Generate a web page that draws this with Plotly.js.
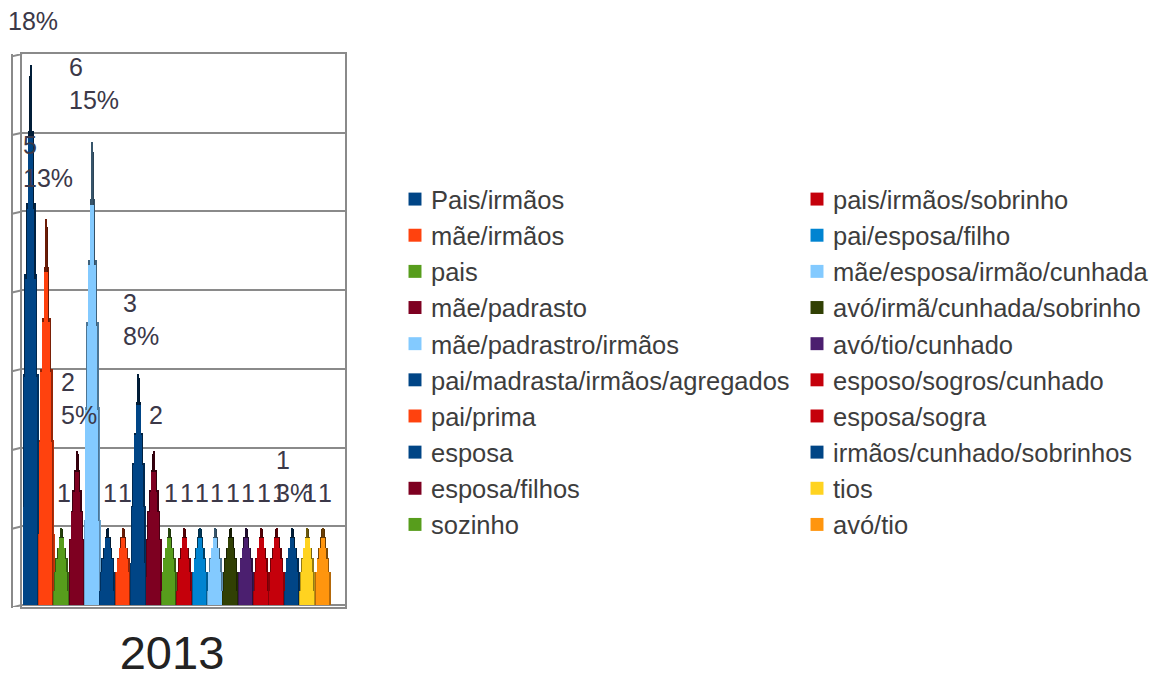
<!DOCTYPE html>
<html>
<head>
<meta charset="utf-8">
<script src="https://cdn.plot.ly/plotly-3.0.1.min.js"></script>
<style>html,body{margin:0;padding:0;background:#fff}</style>
</head>
<body>
<div id="chart" style="width:1159px;height:675px"></div>
<script>
// Household composition, 2013 (number of people per arrangement)
const categories = [
  "Pais/irmãos", "mãe/irmãos", "pais", "mãe/padrasto", "mãe/padrastro/irmãos",
  "pai/madrasta/irmãos/agregados", "pai/prima", "esposa", "esposa/filhos", "sozinho",
  "pais/irmãos/sobrinho", "pai/esposa/filho", "mãe/esposa/irmão/cunhada", "avó/irmã/cunhada/sobrinho", "avó/tio/cunhado",
  "esposo/sogros/cunhado", "esposa/sogra", "irmãos/cunhado/sobrinhos", "tios", "avó/tio"
];
const values = [7, 5, 1, 2, 6, 1, 1, 3, 2, 1, 1, 1, 1, 1, 1, 1, 1, 1, 1, 1];
const countLabels = ["", "5", "1", "2", "6", "1", "1", "3", "2", "1", "1", "1", "1", "1", "1", "1", "1", "1", "1", "1"];
const shareLabels = ["18%", "13%", "", "5%", "15%", "", "", "8%", "", "", "", "", "", "", "", "", "", "3%", "", ""];
const colors = [
  "#004586", "#ff420e", "#579d1c", "#7e0021", "#83caff",
  "#004586", "#ff420e", "#004586", "#7e0021", "#579d1c",
  "#c5000b", "#0084d1", "#83caff", "#314004", "#4b1f6f",
  "#c5000b", "#c5000b", "#004586", "#ffd320", "#ff950e"
];
const gridValues = [0, 1, 2, 3, 4, 5, 6, 7];

// Each cone is a stack of overlaid bars that narrow towards the tip.
const coneTiers = [
  {height: 0.18, width: 1.08, edge: 0.80},
  {height: 0.42, width: 1.00, edge: 0.70},
  {height: 0.60, width: 0.84, edge: 0.58},
  {height: 0.73, width: 0.60, edge: 0.48},
  {height: 0.86, width: 0.36, edge: 0.40},
  {height: 0.96, width: 0.20, edge: 0.34},
  {height: 0.98, width: 0.09, edge: 0.42}
];

function shade(hex, k) {
  const n = parseInt(hex.slice(1), 16);
  const c = [n >> 16, (n >> 8) & 255, n & 255].map(v => Math.round(v * k));
  return `rgb(${c[0]},${c[1]},${c[2]})`;
}

const traces = [];
categories.forEach((name, i) => {
  coneTiers.forEach(tier => {
    // darker shell that shows as the stepped edge of the cone
    traces.push({
      type: "bar", x: [name], y: [values[i] * tier.height], width: [tier.width],
      marker: {color: shade(colors[i], tier.edge), line: {width: 0}},
      showlegend: false, hoverinfo: "skip"
    });
  });
  coneTiers.slice(0, 5).forEach((tier, t) => {
    // lighter core, set slightly left of the cone's centre line
    const w = tier.width * 0.82;
    traces.push({
      type: "bar", x: [name], y: [values[i] * tier.height * 0.985], width: [w],
      offset: [-tier.width / 2 + tier.width * 0.05],
      name: name,
      marker: {color: colors[i], line: {width: 0}},
      showlegend: t === 0,
      legend: i < 10 ? "legend" : "legend2",
      hovertemplate: name + ": " + values[i] + "<extra></extra>"
    });
  });
});

const labelFont = {family: "Liberation Sans, Arial, sans-serif", size: 25, color: "#3b3848"};
const annotations = categories.map((name, i) => ({
  x: name, y: values[i], xref: "x", yref: "y",
  text: [countLabels[i], shareLabels[i]].filter(Boolean).join("<br>"),
  showarrow: false, align: "left", xanchor: "center", yanchor: "bottom",
  xshift: 2, yshift: 17, font: labelFont
}));

// Side wall of the pseudo-3D frame, left of the plotting area
const wall = {color: "#8a8a8a", width: 2};
const wallX = -10 / 323;
const shapes = [
  {type: "line", xref: "paper", yref: "paper", x0: wallX, x1: wallX, y0: -0.002, y1: 1, line: wall}
].concat(gridValues.map(v => ({
  type: "line", xref: "paper", yref: "y", x0: wallX, x1: 0, y0: v - 0.03, y1: v, line: wall
})));

const legendBase = {
  font: {family: "Liberation Sans, Arial, sans-serif", size: 25.5, color: "#3d3d3d"},
  bgcolor: "rgba(0,0,0,0)", borderwidth: 0, xref: "container", yref: "container",
  xanchor: "left", yanchor: "top", y: 1 - 176 / 675, itemclick: false, itemdoubleclick: false,
  tracegroupgap: 0, maxheight: 420
};

const layout = {
  width: 1159, height: 675,
  margin: {l: 22, r: 814, t: 54, b: 68, autoexpand: false},
  paper_bgcolor: "#fff", plot_bgcolor: "#fff",
  barmode: "overlay", bargap: 0,
  title: {
    text: "2013", x: 172 / 1159, xref: "container", xanchor: "center",
    y: 1 - 653 / 675, yref: "container", yanchor: "middle",
    font: {family: "Liberation Sans, Arial, sans-serif", size: 47, color: "#222"}
  },
  xaxis: {
    type: "category", range: [-0.58, 20.43], showticklabels: false, ticks: "",
    showgrid: false, zeroline: false, showline: true, linecolor: "#8a8a8a", linewidth: 2, mirror: true
  },
  yaxis: {
    range: [-0.025, 7], tickvals: gridValues, showticklabels: false, ticks: "",
    showgrid: true, gridcolor: "#8a8a8a", gridwidth: 2, zeroline: false,
    showline: true, linecolor: "#8a8a8a", linewidth: 2, mirror: true
  },
  legend: Object.assign({}, legendBase, {x: 391 / 1159}),
  legend2: Object.assign({}, legendBase, {x: 793 / 1159}),
  annotations: annotations,
  shapes: shapes
};

Plotly.newPlot("chart", traces, layout, {displayModeBar: false, responsive: false}).then(gd => {
  // nudge the legend swatches a little closer to their text
  gd.querySelectorAll(".legendpoints path").forEach(p => {
    const m = /translate\(([-\d.]+)/.exec(p.getAttribute("transform") || "");
    const x = m ? parseFloat(m[1]) : 0;
    p.setAttribute("transform", `translate(${x + 4},0) scale(1.08)`);
  });
});
</script>
</body>
</html>
